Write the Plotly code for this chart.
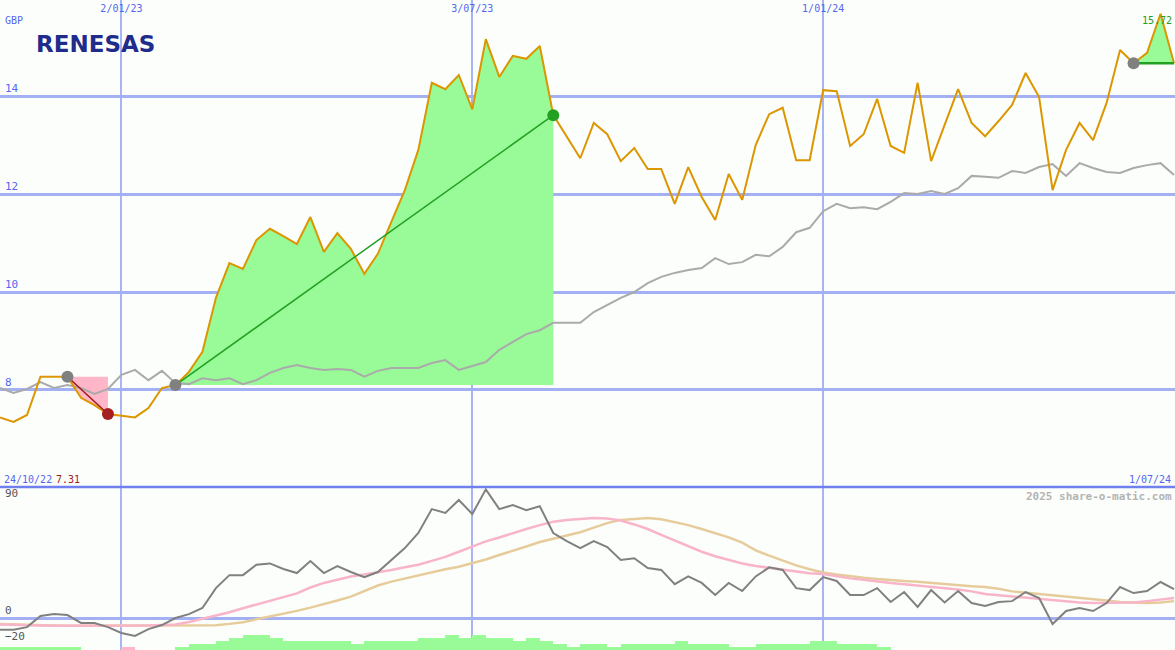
import pandas as pd
import plotly.graph_objects as go

# weekly closes (GBP), benchmark-relative line, oscillator + averages, histogram
dates = pd.date_range("2022-10-31", periods=88, freq="7D")

price = [
    7.44, 7.35, 7.49, 8.27, 8.27, 8.27, 7.84, 7.69, 7.51, 7.47,
    7.44, 7.63, 8.04, 8.10, 8.37, 8.78, 9.88, 10.59, 10.47, 11.06,
    11.29, 11.14, 10.98, 11.53, 10.82, 11.20, 10.88, 10.37, 10.78, 11.43,
    12.08, 12.90, 14.27, 14.14, 14.43, 13.73, 15.16, 14.39, 14.82, 14.76,
    15.02, 13.61, 13.18, 12.73, 13.45, 13.22, 12.67, 12.94, 12.51, 12.51,
    11.80, 12.55, 11.94, 11.47, 12.41, 11.88, 13.00, 13.63, 13.76, 12.69,
    12.69, 14.12, 14.10, 12.98, 13.22, 13.94, 12.98, 12.84, 14.27, 12.67,
    13.41, 14.14, 13.45, 13.18, 13.49, 13.82, 14.47, 13.98, 12.08, 12.90,
    13.45, 13.10, 13.86, 14.94, 14.67, 14.88, 15.68, 14.67,
]

relative = [
    8.04, 7.94, 8.02, 8.16, 8.04, 8.10, 8.04, 7.92, 8.02, 8.31,
    8.41, 8.20, 8.39, 8.14, 8.12, 8.24, 8.20, 8.24, 8.12, 8.20,
    8.35, 8.45, 8.51, 8.45, 8.41, 8.43, 8.41, 8.27, 8.39, 8.45,
    8.45, 8.45, 8.55, 8.61, 8.41, 8.49, 8.57, 8.82, 8.98, 9.14,
    9.22, 9.37, 9.37, 9.37, 9.59, 9.73, 9.88, 10.00, 10.18, 10.31,
    10.39, 10.45, 10.49, 10.69, 10.57, 10.61, 10.76, 10.73, 10.92, 11.22,
    11.31, 11.65, 11.80, 11.71, 11.73, 11.69, 11.84, 12.02, 12.00, 12.06,
    12.00, 12.12, 12.37, 12.35, 12.33, 12.47, 12.43, 12.55, 12.61, 12.37,
    12.63, 12.53, 12.45, 12.43, 12.53, 12.59, 12.63, 12.39,
]

osc = [
    -9, -9, -7, 1.5, 3, 2.3, -3.8, -3.8, -7, -11.5,
    -13.8, -8.5, -5.4, 0, 3, 7.7, 23, 33, 33, 41,
    42, 37.7, 34.6, 43.8, 34.6, 40, 35.4, 31.5, 35.4, 44.6,
    53.8, 65.4, 83.8, 80.8, 90.8, 80, 99, 83.8, 86.9, 83,
    86, 65.4, 59.2, 53.8, 59.2, 54.6, 44.6, 46, 38.5, 37,
    26, 32, 27, 17.7, 27, 20.8, 32, 39, 37, 23,
    21.5, 31.5, 28.5, 17.7, 17.7, 23, 12.3, 20, 8.5, 21.5,
    12, 20.8, 11.5, 9.2, 12.3, 13, 20, 15.4, -4.6, 5.4,
    7.7, 5.4, 11.5, 23.8, 19.2, 20.8, 27.7, 22.3,
]

avg_fast = [
    -5, -5.4, -5.6, -5.8, -6, -6, -6, -6, -6, -6,
    -6, -5.8, -5.4, -5, -3, -0.5, 1.8, 4.5, 7.5, 10.5,
    13, 16, 19, 23.5, 27, 29.5, 32, 33.5, 35, 37,
    39, 41, 44, 47, 51, 55, 59, 62, 65.4, 68.5,
    71.5, 74, 75.5, 76.3, 77, 76.5, 75, 72, 68.5, 64,
    59.5, 55, 51, 47.5, 44.5, 42, 40, 38.5, 37, 35.5,
    34.5, 33.8, 32, 30.5, 29.5, 28, 27, 26, 25, 24.3,
    23.5, 22, 20.5, 18.5, 17.5, 16.5, 15.5, 14.5, 13.8, 12.8,
    12, 11.5, 11.5, 11.5, 12, 13, 14, 15.4,
]

avg_slow = [
    -4.6, -5, -5.3, -5.5, -5.8, -6, -6, -6, -6, -6,
    -6, -6, -6, -6, -6, -6, -5.5, -4.5, -3.2, -1,
    1, 3.3, 5.5, 8, 10.5, 13.5, 16.5, 21, 25, 28,
    30.5, 32.5, 35, 37.5, 39.5, 42, 45, 48.5, 51.5, 55,
    58.5, 61, 63.5, 66, 69.5, 73, 75.5, 76.5, 77, 76,
    74, 71.5, 68.5, 65.5, 62, 58, 52, 48, 44, 40.5,
    37.5, 35, 33.5, 32, 31, 30, 29, 28.5, 28, 27,
    26.3, 25.5, 24.5, 23.8, 22.5, 20.5, 19.5, 18.5, 17.5, 16.8,
    16, 15, 13.5, 12.3, 11.8, 11.5, 12, 13,
]

hist = [
    1, 1, 1, 1, 1, 1, 0, 0, 0, -1,
    0, 0, 0, 1, 2, 2, 3, 4, 5, 5,
    4, 3, 3, 3, 3, 3, 2, 3, 3, 3,
    3, 4, 4, 5, 4, 5, 4, 4, 3, 4,
    3, 2, 1, 2, 2, 1, 2, 2, 2, 2,
    3, 2, 2, 2, 1, 1, 2, 2, 2, 2,
    3, 3, 2, 2, 2, 1, 0, 0, 0, 0,
    0, 0, 0, 0, 0, 0, 0, 0, 0, 0,
    0, 0, 0, 0, 0, 0, 0, 0,
]

# signal points (index into the weekly series)
sell_from, sell_to = 5, 8
buy_from, buy_to = 13, 41
last_buy = 84

tick_dates = ["2023-01-02", "2023-07-03", "2024-01-01"]
tick_text = ["2/01/23", "3/07/23", "1/01/24"]

ORANGE = "#dc9600"
GREEN_FILL = "#98fb98"
PINK_FILL = "#ffb6c8"
BLUE = "#5567ee"
MONO = "DejaVu Sans Mono"

fig = go.Figure()


def band(i0, i1, color):
    xs = dates[i0:i1 + 1]
    base = [price[i0]] * len(xs)
    fig.add_trace(go.Scatter(x=xs, y=base, mode="lines", line=dict(width=0),
                             hoverinfo="skip"))
    fig.add_trace(go.Scatter(x=xs, y=price[i0:i1 + 1], mode="lines",
                             line=dict(width=0), fill="tonexty",
                             fillcolor=color, hoverinfo="skip"))


band(sell_from, sell_to, PINK_FILL)
band(buy_from, buy_to, GREEN_FILL)
band(last_buy, len(price) - 1, GREEN_FILL)

fig.add_trace(go.Scatter(x=dates, y=relative, mode="lines",
                         line=dict(color="#aaaaaa", width=2)))
fig.add_trace(go.Scatter(x=dates, y=price, mode="lines",
                         line=dict(color=ORANGE, width=2)))

# trend lines between signals
fig.add_trace(go.Scatter(x=[dates[sell_from], dates[sell_to]],
                         y=[price[sell_from], price[sell_to]], mode="lines",
                         line=dict(color="#a01818", width=1.5)))
fig.add_trace(go.Scatter(x=[dates[buy_from], dates[buy_to]],
                         y=[price[buy_from], price[buy_to]], mode="lines",
                         line=dict(color="#22a022", width=1.5)))
fig.add_trace(go.Scatter(x=[dates[last_buy], dates[-1]],
                         y=[price[last_buy], price[last_buy]], mode="lines",
                         line=dict(color="#22a022", width=2.5)))

marks = [(sell_from, "#808080"), (sell_to, "#a52020"), (buy_from, "#808080"),
         (buy_to, "#22a022"), (last_buy, "#808080")]
fig.add_trace(go.Scatter(x=[dates[i] for i, _ in marks],
                         y=[price[i] for i, _ in marks], mode="markers",
                         marker=dict(size=12, color=[c for _, c in marks])))

# lower panel
week_ms = 7 * 24 * 3600 * 1000
fig.add_trace(go.Bar(x=dates + pd.Timedelta(days=3.5), y=[abs(h) for h in hist],
                     width=week_ms,
                     marker=dict(color=[PINK_FILL if h < 0 else GREEN_FILL for h in hist],
                                 line=dict(width=0)),
                     xaxis="x2", yaxis="y3"))
fig.add_trace(go.Scatter(x=dates, y=avg_slow, mode="lines", xaxis="x2", yaxis="y2",
                         line=dict(color="#e6cc9a", width=2.5)))
fig.add_trace(go.Scatter(x=dates, y=avg_fast, mode="lines", xaxis="x2", yaxis="y2",
                         line=dict(color="#f8b4c8", width=2.5)))
fig.add_trace(go.Scatter(x=dates, y=osc, mode="lines", xaxis="x2", yaxis="y2",
                         line=dict(color="#808080", width=2)))

split = 163 / 650
x_range = ["2022-10-31", "2024-07-01 12:00"]
xgrid = dict(range=x_range, tickvals=tick_dates, showgrid=True,
             gridcolor="#a8b4f4", gridwidth=1.5, zeroline=False, showline=False,
             ticks="")

fig.update_layout(
    width=1175, height=650,
    margin=dict(l=0, r=0, t=0, b=0),
    paper_bgcolor="#fcfefc", plot_bgcolor="#fcfefc",
    showlegend=False, bargap=0,
    font=dict(family=MONO, size=10, color=BLUE),
    xaxis=dict(**xgrid, side="top", ticktext=tick_text, ticklabelposition="inside",
               ticklabelstandoff=2,
               tickfont=dict(family=MONO, size=10, color=BLUE), anchor="y"),
    yaxis=dict(domain=[split, 1], range=[6.02, 15.96], tickvals=[8, 10, 12, 14],
               gridcolor="#a4b0f4", gridwidth=3, zeroline=False,
               ticklabelposition="inside top", ticklabelstandoff=2,
               tickfont=dict(family=MONO, size=11, color=BLUE)),
    xaxis2=dict(**xgrid, anchor="y2", showticklabels=False, matches="x"),
    yaxis2=dict(domain=[0, split], range=[-24.6, 100.8], tickvals=[-20, 0, 90],
                showgrid=False, zeroline=True, zerolinecolor="#a4b0f4",
                zerolinewidth=3, ticklabelposition="inside top", ticklabelstandoff=2,
                tickfont=dict(family=MONO, size=11, color="#555555")),
    yaxis3=dict(domain=[0, split], range=[0, 55], overlaying="y2",
                visible=False),
)

fig.add_shape(type="line", xref="paper", yref="paper", x0=0, x1=1,
              y0=split, y1=split, line=dict(color="#7080ee", width=2.5))


def label(x, y, text, color, anchor="left", size=10, weight="normal", family=MONO):
    fig.add_annotation(x=x / 1175, y=1 - y / 650, xref="paper", yref="paper",
                       text=text, showarrow=False, xanchor=anchor, yanchor="middle",
                       font=dict(family=family, size=size, color=color, weight=weight))


label(3, 20, "GBP", BLUE)
label(2, 479, "24/10/22", BLUE)
label(54, 479, "7.31", "#a02020")
label(1173, 479, "1/07/24", BLUE, anchor="right")
label(1174, 20, "15.72", "#20a020", anchor="right")
label(1174, 496, "2025 share-o-matic.com", "#b4b4b4", anchor="right", size=11,
      weight="bold")
label(34, 44, "RENESAS", "#1f2c8c", size=23, weight="bold", family="DejaVu Sans")

# the page body has a default margin; drop it so the chart sits at the corner
fig.write_html("out.html", config={"displayModeBar": False},
               post_script="document.body.style.margin='0';")
